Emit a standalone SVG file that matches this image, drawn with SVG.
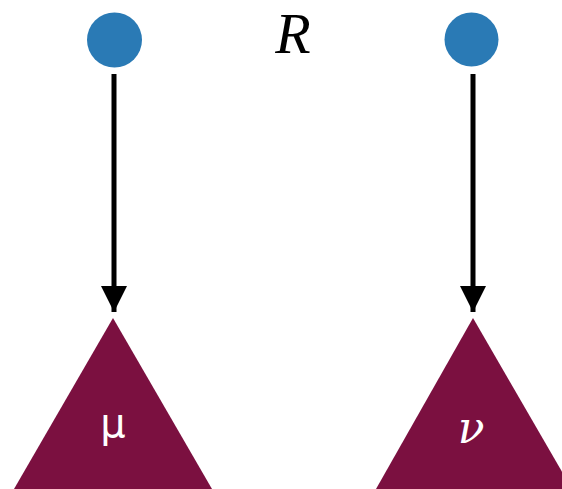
<svg xmlns="http://www.w3.org/2000/svg" width="562" height="489" viewBox="0 0 562 489">
<style>
.src{fill:#2A7AB5}
.tri{fill:#7B1040}
.edge{stroke:#000;stroke-width:5;fill:none}
.lbl{fill:#fff;text-anchor:middle}
</style>
<defs>
<marker id="ah" markerUnits="userSpaceOnUse" markerWidth="28" markerHeight="28" refX="26" refY="13" orient="auto">
<path d="M0,0 L26,13 L0,26 Z" fill="#000"/>
</marker>
</defs>
<rect width="562" height="489" fill="#fff"/>
<text x="293" y="53" font-family="Liberation Serif, serif" font-style="italic" font-size="58" text-anchor="middle" fill="#000">R</text>
<g id="connectors">
<line class="edge" x1="114" y1="74" x2="114" y2="312" marker-end="url(#ah)"/>
<line class="edge" x1="473" y1="74" x2="473" y2="312" marker-end="url(#ah)"/>
</g>
<g id="source1"><circle class="src" cx="114.5" cy="40" r="27.5"/></g>
<g id="source2"><circle class="src" cx="471.5" cy="39.5" r="27"/></g>
<g id="mu">
<polygon class="tri" points="113,318 212,489 14,489"/>
<text class="lbl" x="113" y="437" font-family="DejaVu Sans, sans-serif" font-size="40">μ</text>
</g>
<g id="nu">
<polygon class="tri" points="473,318 572,489 376,489"/>
<text class="lbl" x="471" y="443" font-family="DejaVu Serif, serif" font-style="italic" font-size="44">ν</text>
</g>
</svg>
